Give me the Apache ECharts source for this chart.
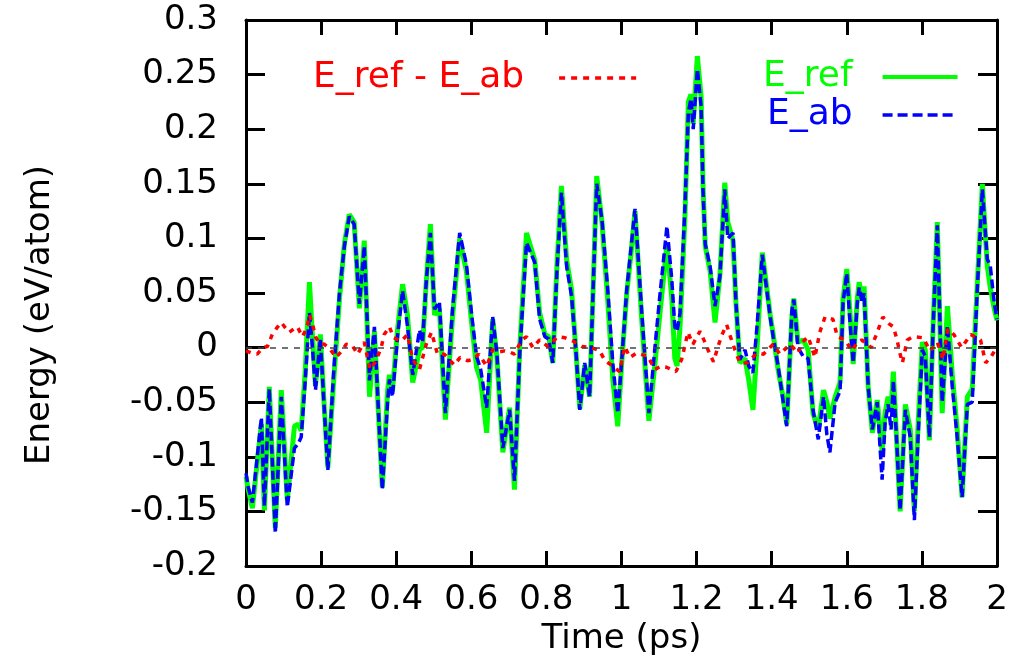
<!DOCTYPE html>
<html>
<head>
<meta charset="utf-8">
<script src="https://cdn.jsdelivr.net/npm/echarts@6/dist/echarts.min.js"></script>
<style>html,body{margin:0;padding:0;background:#fff;}#chart{width:1027px;height:661px;}</style>
</head>
<body>
<div id="chart"></div>
<script>
const xTickLabels = ['0','0.2','0.4','0.6','0.8','1','1.2','1.4','1.6','1.8','2'];
const yTickLabels = ['-0.2','-0.15','-0.1','-0.05','0','0.05','0.1','0.15','0.2','0.25','0.3'];

const time = [0.000,0.006,0.017,0.030,0.041,0.049,0.062,0.078,0.094,0.110,
 0.129,0.139,0.147,0.158,0.169,0.177,0.185,0.198,0.209,0.218,
 0.234,0.249,0.262,0.275,0.288,0.302,0.315,0.329,0.342,0.353,
 0.363,0.377,0.382,0.390,0.404,0.417,0.430,0.444,0.462,0.470,
 0.480,0.491,0.502,0.515,0.531,0.550,0.569,0.587,0.601,0.614,
 0.625,0.641,0.657,0.668,0.684,0.702,0.715,0.729,0.747,0.769,
 0.782,0.796,0.806,0.817,0.828,0.840,0.854,0.867,0.878,0.889,
 0.902,0.915,0.926,0.934,0.948,0.963,0.977,0.990,1.001,1.014,
 1.025,1.036,1.054,1.073,1.089,1.102,1.121,1.134,1.142,1.148,
 1.156,1.169,1.178,1.185,1.191,1.202,1.212,1.217,1.223,1.236,
 1.249,1.262,1.275,1.283,1.297,1.305,1.315,1.329,1.339,1.350,
 1.361,1.375,1.396,1.404,1.417,1.430,1.440,1.454,1.459,1.470,
 1.484,1.497,1.510,1.524,1.538,1.547,1.555,1.569,1.582,1.590,
 1.600,1.608,1.617,1.628,1.633,1.641,1.646,1.657,1.668,1.681,
 1.694,1.702,1.710,1.718,1.724,1.732,1.742,1.756,1.769,1.780,
 1.790,1.801,1.809,1.820,1.830,1.841,1.854,1.868,1.881,1.894,
 1.907,1.921,1.934,1.947,1.961,1.974,1.982,1.993,2.000];

const eAb = [-0.115,-0.128,-0.142,-0.100,-0.064,-0.145,-0.038,-0.170,-0.045,-0.146,
 -0.092,-0.088,-0.082,-0.029,0.032,0.000,-0.039,0.008,-0.060,-0.112,
 -0.020,0.050,0.093,0.120,0.113,0.040,0.093,-0.030,0.019,-0.060,
 -0.130,-0.050,-0.029,-0.045,0.012,0.052,0.020,-0.025,0.016,0.005,
 0.060,0.105,0.035,0.042,-0.060,0.035,0.105,0.076,0.030,-0.008,
 -0.020,-0.055,0.028,-0.005,-0.092,-0.057,-0.122,-0.005,0.096,0.078,
 0.026,0.010,0.008,-0.014,0.070,0.142,0.074,0.047,0.000,-0.057,
 -0.014,-0.045,0.070,0.150,0.117,0.055,-0.015,-0.060,-0.010,0.053,
 0.090,0.127,0.032,-0.060,0.000,0.047,0.111,0.062,0.019,0.015,
 0.032,0.129,0.215,0.228,0.200,0.255,0.221,0.145,0.095,0.074,
 0.038,0.065,0.145,0.100,0.105,0.040,-0.011,-0.002,-0.017,-0.023,
 0.020,0.085,0.028,0.010,-0.017,-0.048,-0.072,0.035,0.044,0.000,
 -0.008,-0.010,-0.057,-0.084,-0.045,-0.080,-0.096,-0.050,-0.040,0.041,
 0.068,0.026,-0.014,0.041,0.055,0.041,0.050,-0.036,-0.075,-0.050,
 -0.121,-0.069,-0.052,-0.075,-0.030,-0.080,-0.149,-0.057,-0.082,-0.158,
 -0.080,-0.002,-0.008,-0.082,0.020,0.112,-0.050,0.020,-0.036,-0.082,
 -0.137,-0.052,-0.050,0.050,0.145,0.081,0.075,0.040,0.026];

const eRef = [-0.118,-0.130,-0.147,-0.105,-0.070,-0.149,-0.036,-0.165,-0.039,-0.140,
 -0.072,-0.070,-0.076,-0.020,0.060,0.010,-0.035,0.012,-0.058,-0.110,
 -0.028,0.045,0.095,0.122,0.115,0.036,0.098,-0.045,0.015,-0.062,
 -0.128,-0.040,-0.025,-0.040,0.018,0.058,0.030,-0.032,-0.002,0.000,
 0.060,0.113,0.030,0.036,-0.066,0.028,0.100,0.070,0.022,-0.018,
 -0.030,-0.078,0.026,-0.008,-0.096,-0.055,-0.130,0.000,0.105,0.080,
 0.032,0.012,0.010,-0.014,0.075,0.148,0.080,0.053,0.000,-0.056,
 -0.016,-0.045,0.070,0.157,0.115,0.045,-0.030,-0.072,-0.012,0.050,
 0.085,0.125,0.025,-0.067,-0.015,0.030,0.095,0.045,-0.010,-0.017,
 0.020,0.120,0.225,0.232,0.205,0.267,0.230,0.150,0.093,0.070,
 0.023,0.066,0.151,0.115,0.098,0.040,-0.014,-0.010,-0.030,-0.057,
 0.000,0.087,0.030,0.012,-0.020,-0.045,-0.070,0.030,0.045,0.005,
 0.007,-0.002,-0.060,-0.075,-0.039,-0.050,-0.065,-0.045,-0.032,0.045,
 0.072,0.035,-0.015,0.045,0.060,0.045,0.056,-0.036,-0.078,-0.048,
 -0.095,-0.060,-0.045,-0.055,-0.022,-0.080,-0.150,-0.052,-0.075,-0.150,
 -0.070,0.005,-0.002,-0.085,0.022,0.115,-0.060,0.038,-0.025,-0.075,
 -0.137,-0.045,-0.038,0.055,0.150,0.075,0.055,0.035,0.025];

const diffTime = [0.000,0.015,0.030,0.045,0.057,0.070,0.082,0.094,0.105,0.115,
 0.127,0.137,0.150,0.162,0.169,0.177,0.185,0.195,0.209,0.225,
 0.240,0.255,0.267,0.283,0.297,0.315,0.330,0.345,0.360,0.368,
 0.382,0.393,0.414,0.430,0.444,0.462,0.480,0.494,0.510,0.528,
 0.555,0.570,0.590,0.604,0.620,0.641,0.657,0.672,0.689,0.702,
 0.715,0.734,0.747,0.764,0.782,0.804,0.830,0.850,0.871,0.894,
 0.921,0.942,0.956,0.977,0.995,1.009,1.022,1.040,1.070,1.089,
 1.105,1.120,1.145,1.160,1.177,1.190,1.209,1.222,1.235,1.245,
 1.257,1.268,1.280,1.290,1.302,1.315,1.335,1.361,1.378,1.404,
 1.422,1.449,1.470,1.482,1.497,1.515,1.528,1.542,1.563,1.575,
 1.595,1.614,1.628,1.640,1.665,1.681,1.696,1.712,1.724,1.734,
 1.740,1.748,1.761,1.777,1.803,1.822,1.841,1.856,1.869,1.885,
 1.906,1.930,1.956,1.970,1.985,2.000];

const diffVal = [-0.003,-0.005,-0.006,0.000,0.001,0.012,0.018,0.023,0.018,0.014,
 0.017,0.019,0.010,0.018,0.030,0.022,0.010,0.004,0.003,-0.002,
 -0.009,-0.003,0.003,0.002,-0.006,0.005,-0.020,-0.013,0.000,0.012,
 0.019,0.009,0.006,0.012,-0.011,-0.020,0.003,0.014,-0.006,-0.006,
 -0.016,-0.009,-0.012,-0.011,-0.006,-0.017,-0.002,-0.004,-0.003,-0.004,
 -0.006,0.007,0.010,0.000,0.007,0.001,0.010,0.009,0.006,0.001,
 0.000,-0.003,-0.012,-0.017,-0.022,0.001,-0.009,-0.005,-0.008,-0.020,
 -0.017,-0.018,-0.022,-0.011,0.014,0.003,0.015,0.005,-0.006,-0.013,
 0.001,0.012,0.021,0.010,-0.002,-0.014,-0.014,-0.005,-0.006,0.003,
 -0.006,0.003,-0.005,0.005,0.010,-0.009,0.014,0.028,0.026,0.010,
 0.007,-0.003,0.005,0.007,0.000,0.014,0.028,0.022,0.019,0.007,
 -0.003,-0.014,0.007,0.010,0.009,-0.003,0.005,-0.011,0.017,0.012,
 0.000,0.012,0.007,-0.014,-0.008,0.001];

const FONT = 'DejaVu Sans';
const xMin = 0, xMax = 2, xStep = 0.2;
const yMin = -0.2, yMax = 0.3, yStep = 0.05;

const chart = echarts.init(document.getElementById('chart'), null, {renderer: 'canvas'});

function axisCommon(extra) {
  return Object.assign({
    axisLine: {show: true, onZero: false, lineStyle: {color: '#000', width: 3}},
    splitLine: {show: false},
  }, extra);
}

const xLabelFmt = v => xTickLabels[Math.round((v - xMin) / xStep)];
const yLabelFmt = v => yTickLabels[Math.round((v - yMin) / yStep)];

const legendCommon = {
  selectedMode: false,
  itemStyle: {opacity: 0, borderWidth: 0},
  lineStyle: {opacity: 1}
};

const option = {
  animation: false,
  backgroundColor: '#fff',
  grid: {left: 246, right: 30, top: 20, bottom: 95, containLabel: false},
  xAxis: [
    axisCommon({
      type: 'value', min: xMin, max: xMax, interval: xStep, position: 'bottom',
      axisTick: {show: true, inside: true, length: 15, lineStyle: {color: '#000', width: 3}},
      axisLabel: {show: true, formatter: xLabelFmt, fontFamily: FONT, fontSize: 34, color: '#000', margin: 17},
      name: 'Time (ps)', nameLocation: 'middle', nameGap: 52,
      nameTextStyle: {fontFamily: FONT, fontSize: 34, color: '#000'}
    }),
    axisCommon({
      type: 'value', min: xMin, max: xMax, interval: xStep, position: 'top',
      axisTick: {show: true, inside: true, length: 15, lineStyle: {color: '#000', width: 3}},
      axisLabel: {show: false}
    })
  ],
  yAxis: [
    axisCommon({
      type: 'value', min: yMin, max: yMax, interval: yStep, position: 'left',
      axisTick: {show: true, inside: true, length: 19, lineStyle: {color: '#000', width: 3}},
      axisLabel: {show: true, formatter: yLabelFmt, fontFamily: FONT, fontSize: 34, color: '#000', margin: 28}
    }),
    axisCommon({
      type: 'value', min: yMin, max: yMax, interval: yStep, position: 'right',
      axisTick: {show: true, inside: true, length: 19, lineStyle: {color: '#000', width: 3}},
      axisLabel: {show: false}
    })
  ],
  legend: [
    Object.assign({
      data: [{name: 'E_ref - E_ab', textStyle: {color: '#ff0000'}, lineStyle: {width: 3.5, type: [6, 6]}}],
      left: 308, top: 55, align: 'right', orient: 'horizontal',
      itemWidth: 77, itemHeight: 14,
      textStyle: {fontFamily: FONT, fontSize: 36, padding: [0, 30, 0, 0]}
    }, legendCommon),
    Object.assign({
      data: [
        {name: 'E_ref', textStyle: {color: '#00ff00'}, lineStyle: {width: 4}},
        {name: 'E_ab', textStyle: {color: '#0000ff'}, lineStyle: {width: 3.5, type: [10, 5]}}
      ],
      left: 758, top: 54, align: 'right', orient: 'vertical', itemGap: 2,
      itemWidth: 75, itemHeight: 14,
      textStyle: {fontFamily: FONT, fontSize: 36, padding: [0, 25, 0, 0]}
    }, legendCommon)
  ],
  graphic: [{
    type: 'text', x: 40, y: 315, rotation: Math.PI / 2,
    style: {text: 'Energy (eV/atom)', fontFamily: FONT, fontSize: 34, fill: '#000', align: 'center', verticalAlign: 'middle'}
  }],
  series: [
    {
      name: 'E_ref', type: 'line', xAxisIndex: 0, yAxisIndex: 0, z: 2,
      data: time.map((t, i) => [t, eRef[i]]),
      symbol: 'none', showSymbol: false,
      lineStyle: {color: '#00ff00', width: 5, type: 'solid'}, itemStyle: {color: '#00ff00'},
      markLine: {
        silent: true, symbol: 'none', label: {show: false},
        lineStyle: {color: '#444', width: 1.5, type: [6, 6]},
        data: [{yAxis: 0}]
      }
    },
    {
      name: 'E_ab', type: 'line', xAxisIndex: 0, yAxisIndex: 0, z: 3,
      data: time.map((t, i) => [t, eAb[i]]),
      symbol: 'none', showSymbol: false,
      lineStyle: {color: '#0000ff', width: 3.5, type: [9, 4]}, itemStyle: {color: '#0000ff'}
    },
    {
      name: 'E_ref - E_ab', type: 'line', xAxisIndex: 0, yAxisIndex: 0, z: 4,
      data: diffTime.map((t, i) => [t, diffVal[i]]),
      symbol: 'none', showSymbol: false,
      lineStyle: {color: '#ff0000', width: 3.5, type: [5, 6]}, itemStyle: {color: '#ff0000'}
    }
  ]
};
chart.setOption(option);
</script>
</body>
</html>
